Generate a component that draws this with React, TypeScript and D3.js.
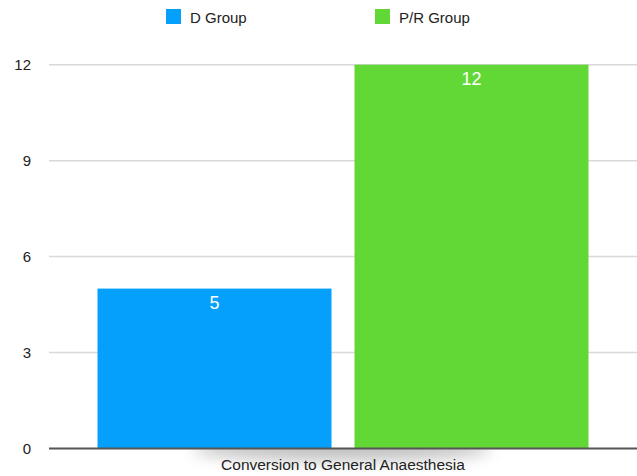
import React from 'react'
import * as d3 from 'd3'

const width = 637
const height = 476

// data
const categories = ['Conversion to General Anaesthesia']
const seriesNames = ['D Group', 'P/R Group']
const seriesValues = [[5], [12]] // per series, one value per category
const seriesColors = ['#05a0fc', '#61d836']
const yTicks = [0, 3, 6, 9, 12]

const font = '"Liberation Sans", Arial, Helvetica, sans-serif'

const plotLeft = 49
const plotRight = 637
const plotTop = 64.7
const plotBottom = 448.5

export default function App() {
    const y = d3.scaleLinear().domain([0, 12]).range([plotBottom, plotTop])

    const x0 = d3
        .scaleBand<string>()
        .domain(categories)
        .range([plotLeft, plotRight])
        .paddingInner(0)
        .paddingOuter(0.0988)

    const x1 = d3
        .scaleBand<string>()
        .domain(seriesNames)
        .range([0, x0.bandwidth()])
        .paddingInner(0.0895)
        .paddingOuter(0)

    const legendX = [166, 375]

    return (
        <svg
            width={width}
            height={height}
            style={{ position: 'absolute', left: 0, top: 0, fontFamily: font }}
        >
            <defs>
                <filter id="soft" x="-50%" y="-200%" width="200%" height="500%">
                    <feGaussianBlur stdDeviation="8" />
                </filter>
                <clipPath id="below">
                    <rect x={0} y={plotBottom} width={width} height={height - plotBottom} />
                </clipPath>
            </defs>

            {/* legend */}
            {seriesNames.map((name, i) => (
                <g key={name}>
                    <rect x={legendX[i]} y={9} width={15} height={15} fill={seriesColors[i]} />
                    <text x={legendX[i] + 24} y={22.5} fontSize={15} fill="#222">
                        {name}
                    </text>
                </g>
            ))}

            {/* grid + y labels */}
            {yTicks.map((t) => (
                <g key={t}>
                    {t !== 0 && (
                        <line
                            x1={plotLeft}
                            x2={plotRight}
                            y1={y(t)}
                            y2={y(t)}
                            stroke="#d9d9d9"
                            strokeWidth={1.5}
                        />
                    )}
                    <text
                        x={31}
                        y={y(t)}
                        dy="0.36em"
                        textAnchor="end"
                        fontSize={15}
                        fill="#222"
                    >
                        {t}
                    </text>
                </g>
            ))}

            {/* bars */}
            {categories.map((cat, ci) => (
                <g key={cat} transform={`translate(${x0(cat)},0)`}>
                    {seriesNames.map((name, si) => {
                        const v = seriesValues[si][ci]
                        const bx = x1(name) as number
                        return (
                            <g key={name}>
                                <rect
                                    x={bx}
                                    y={y(v)}
                                    width={x1.bandwidth()}
                                    height={y(0) - y(v)}
                                    fill={seriesColors[si]}
                                />
                                <text
                                    x={bx + x1.bandwidth() / 2}
                                    y={y(v) + 20.5}
                                    textAnchor="middle"
                                    fontSize={18}
                                    fill="#fff"
                                >
                                    {v}
                                </text>
                            </g>
                        )
                    })}
                </g>
            ))}

            {/* soft shadow under the category label */}
            <g clipPath="url(#below)">
                <ellipse
                    cx={342}
                    cy={plotBottom}
                    rx={150}
                    ry={12}
                    fill="#000"
                    opacity={0.25}
                    filter="url(#soft)"
                />
            </g>

            {/* baseline */}
            <line
                x1={plotLeft}
                x2={plotRight}
                y1={plotBottom}
                y2={plotBottom}
                stroke="#555"
                strokeWidth={2}
            />

            {/* category label */}
            {categories.map((cat) => (
                <text
                    key={cat}
                    x={(x0(cat) as number) + x0.bandwidth() / 2}
                    y={470}
                    textAnchor="middle"
                    fontSize={15.5}
                    fill="#222"
                >
                    {cat}
                </text>
            ))}
        </svg>
    )
}
